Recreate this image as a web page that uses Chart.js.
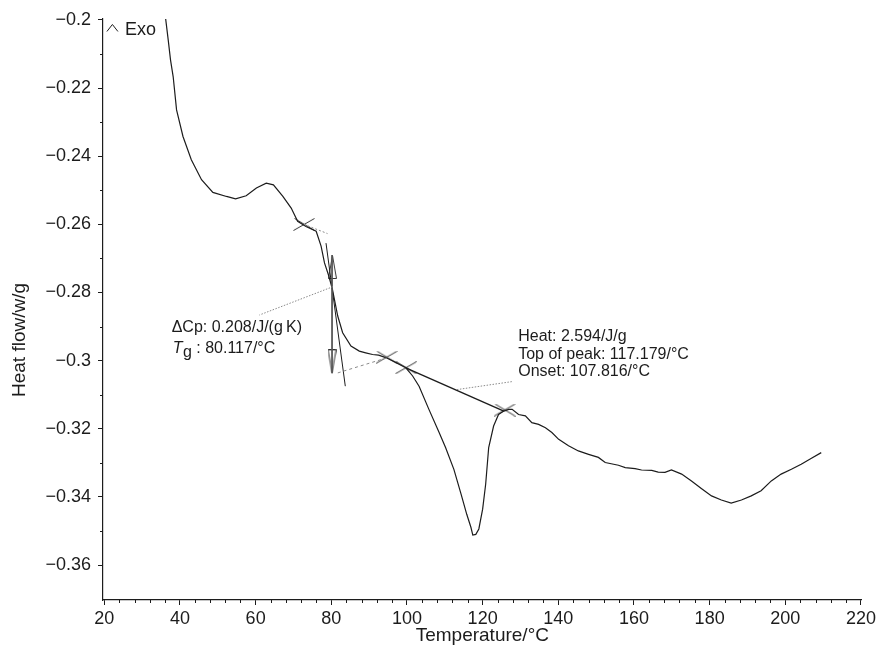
<!DOCTYPE html>
<html>
<head>
<meta charset="utf-8">
<title>DSC heat flow</title>
<script src="https://cdn.jsdelivr.net/npm/chart.js@4.4.1/dist/chart.umd.min.js"></script>
<style>
  html, body { margin: 0; padding: 0; background: #fff; }
  canvas { display: block; }
</style>
</head>
<body>
<canvas id="chart" width="879" height="657"></canvas>
<script>
'use strict';

const INK = '#1c1c1c';
const GREY = '#8a8a8a';
const FONT = '"Liberation Sans", Arial, Helvetica, sans-serif';

// main DSC trace
const tempC = [
  36.2, 36.9, 37.5, 38.2, 39.1, 40.8, 43.0, 45.7, 48.7, 52.3, 54.7, 57.5, 60.2, 62.8, 64.7,
  67.2, 69.4, 71.1, 73.3, 76.0, 77.3, 78.2, 79.3, 80.3, 81.7, 83.0, 85.2, 87.4, 89.1, 90.9,
  92.5, 94.4, 97.0, 99.7, 101.5, 103.2, 105.8, 108.5, 110.2, 112.4, 114.3, 115.8, 116.9, 117.4,
  118.2, 119.0, 120.0, 120.8, 121.6, 122.9, 124.2, 125.6, 126.9, 127.8, 129.5, 131.3, 133.0,
  134.8, 136.6, 138.3, 140.1, 142.7, 145.3, 148.0, 150.6, 152.4, 155.9, 157.7, 160.3, 162.0,
  164.7, 166.4, 168.2, 169.9, 172.6, 175.2, 177.8, 180.5, 183.1, 185.7, 188.4, 191.0, 193.6,
  196.3, 198.9, 201.6, 204.2, 206.8, 209.5
];
const heatFlow = [
  -0.1995, -0.2059, -0.2117, -0.2166, -0.2264, -0.2342, -0.2410, -0.2469, -0.2506, -0.2518, -0.2525, -0.2516, -0.2493, -0.2479, -0.2484,
  -0.2518, -0.2552, -0.2591, -0.2606, -0.2620, -0.2664, -0.2713, -0.2750, -0.2791, -0.2869, -0.2918, -0.2957, -0.2972, -0.2977, -0.2982,
  -0.2984, -0.2991, -0.3005, -0.3021, -0.3045, -0.3075, -0.3143, -0.3211, -0.3255, -0.3319, -0.3392, -0.3451, -0.3489, -0.3512,
  -0.3510, -0.3494, -0.3436, -0.3363, -0.3255, -0.3192, -0.3158, -0.3148, -0.3143, -0.3143, -0.3158, -0.3162, -0.3182,
  -0.3187, -0.3197, -0.3211, -0.3231, -0.3250, -0.3265, -0.3275, -0.3284, -0.3299, -0.3307, -0.3314, -0.3317, -0.3321,
  -0.3322, -0.3327, -0.3328, -0.3321, -0.3333, -0.3353, -0.3375, -0.3397, -0.3409, -0.3418, -0.3409, -0.3397, -0.3382,
  -0.3353, -0.3333, -0.3319, -0.3304, -0.3287, -0.3270
];

// glass transition evaluation
const tgTangentX = [78.6, 83.7];
const tgTangentY = [-0.2655, -0.3075];
const upperBaseX = [72.8, 79.0];
const upperBaseY = [-0.2600, -0.2627];
const lowerBaseX = [94.6, 81.7];
const lowerBaseY = [-0.2992, -0.3036];
const deltaCpX = [80.2, 80.2];
const deltaCpY = [-0.2690, -0.3037];
const arrowUp = { x: 80.3, y: -0.2725 };
const arrowDown = { x: 80.2, y: -0.3002 };
const tgLeaderX = [80.4, 61.0];
const tgLeaderY = [-0.2783, -0.2866];

// melting peak evaluation
const peakBaseX = [99.7, 125.6];
const peakBaseY = [-0.3021, -0.3148];
const peakLeaderX = [113.2, 128.1];
const peakLeaderY = [-0.3085, -0.3061];

const markerX = [72.8, 94.6, 99.7, 125.8];
const markerY = [-0.2600, -0.2990, -0.3021, -0.3145];

// axes
const xTicks = [20, 40, 60, 80, 100, 120, 140, 160, 180, 200, 220];
const xMinorTicks = [];
for (let v = 24; v < 220; v += 4) { if (v % 20 !== 0) { xMinorTicks.push(v); } }
const yTicks = [-0.2, -0.22, -0.24, -0.26, -0.28, -0.3, -0.32, -0.34, -0.36];
const yTickLabels = ['\u22120.2', '\u22120.22', '\u22120.24', '\u22120.26', '\u22120.28', '\u22120.3', '\u22120.32', '\u22120.34', '\u22120.36'];
const yMinorTicks = [-0.21, -0.23, -0.25, -0.27, -0.29, -0.31, -0.33, -0.35];

// annotation texts, anchored in data units
const tgNote = { x: 37.8, y: -0.2917, y2: -0.2977, line1: '\u0394Cp: 0.208/J/(g\u2009K)', tg: ' : 80.117/\u00b0C' };
const peakNote = { x: 129.4, ys: [-0.2943, -0.2994, -0.3045], lines: ['Heat: 2.594/J/g', 'Top of peak: 117.179/\u00b0C', 'Onset: 107.816/\u00b0C'] };
const exoNote = { x: 25.45, y: -0.2044, text: 'Exo' };

function pts(xs, ys) { return xs.map((x, i) => ({ x, y: ys[i] })); }

function makeArrow(up) {
  const c = document.createElement('canvas');
  c.width = 9; c.height = 24;
  const g = c.getContext('2d');
  g.strokeStyle = '#333';
  g.lineWidth = 1;
  g.beginPath();
  if (up) { g.moveTo(4.5, 0.5); g.lineTo(8.5, 23.5); g.lineTo(0.5, 23.5); }
  else { g.moveTo(4.5, 23.5); g.lineTo(8.5, 0.5); g.lineTo(0.5, 0.5); }
  g.closePath();
  g.stroke();
  return c;
}

function makeCross() {
  const c = document.createElement('canvas');
  c.width = 22; c.height = 13;
  const g = c.getContext('2d');
  g.strokeStyle = '#333';
  g.lineWidth = 1;
  g.beginPath();
  g.moveTo(0.5, 12.5); g.lineTo(21.5, 0.5);
  g.moveTo(1.5, 0.5); g.lineTo(21.5, 12.5);
  g.stroke();
  return c;
}

function seg(data, color, width, dash) {
  return {
    data, showLine: true, borderColor: color, borderWidth: width, borderDash: dash || [],
    pointRadius: 0, fill: false, tension: 0
  };
}

const notesPlugin = {
  id: 'dscNotes',
  afterDraw(chart) {
    const { ctx } = chart;
    const x = chart.scales.x;
    const y = chart.scales.y;
    ctx.save();
    ctx.strokeStyle = INK;
    ctx.lineWidth = 1;
    xMinorTicks.forEach(v => {
      const px = Math.round(x.getPixelForValue(v)) + 0.5;
      ctx.beginPath(); ctx.moveTo(px, y.bottom); ctx.lineTo(px, y.bottom + 3); ctx.stroke();
    });
    yMinorTicks.forEach(v => {
      const py = Math.round(y.getPixelForValue(v)) + 0.5;
      ctx.beginPath(); ctx.moveTo(x.left, py); ctx.lineTo(x.left - 3, py); ctx.stroke();
    });

    ctx.fillStyle = INK;
    ctx.textBaseline = 'alphabetic';
    ctx.textAlign = 'left';

    // Exo marker
    ctx.font = '18px ' + FONT;
    const ex = x.getPixelForValue(exoNote.x);
    const ey = y.getPixelForValue(exoNote.y);
    ctx.fillText(exoNote.text, ex, ey);
    ctx.beginPath();
    ctx.moveTo(ex - 18, ey - 3.5); ctx.lineTo(ex - 12.5, ey - 10.5); ctx.lineTo(ex - 7, ey - 3.5);
    ctx.stroke();

    // glass transition note
    ctx.font = '16px ' + FONT;
    const tx = x.getPixelForValue(tgNote.x);
    ctx.fillText(tgNote.line1, tx, y.getPixelForValue(tgNote.y));
    const ty = y.getPixelForValue(tgNote.y2);
    ctx.font = 'italic 16px ' + FONT;
    ctx.fillText('T', tx + 1, ty);
    let cx = tx + 1 + ctx.measureText('T').width;
    ctx.font = '16px ' + FONT;
    ctx.fillText('g', cx + 0.5, ty + 4);
    cx += 0.5 + ctx.measureText('g').width;
    ctx.fillText(tgNote.tg, cx, ty);

    // peak note
    const hx = x.getPixelForValue(peakNote.x);
    peakNote.lines.forEach((t, i) => ctx.fillText(t, hx, y.getPixelForValue(peakNote.ys[i])));

    // y axis title
    ctx.font = '19px ' + FONT;
    ctx.textAlign = 'center';
    ctx.textBaseline = 'middle';
    ctx.translate(20, 340);
    ctx.rotate(-Math.PI / 2);
    ctx.fillText('Heat flow/w/g', 0, 0);
    ctx.restore();
  }
};

const crossImg = makeCross();

new Chart(document.getElementById('chart').getContext('2d'), {
  type: 'scatter',
  data: {
    datasets: [
      seg(pts(upperBaseX, upperBaseY), GREY, 1, [2, 2]),
      seg(pts(lowerBaseX, lowerBaseY), GREY, 1, [3, 3]),
      seg(pts(tgLeaderX, tgLeaderY), GREY, 1, [1.5, 1.5]),
      seg(pts(peakLeaderX, peakLeaderY), GREY, 1, [1.5, 1.5]),
      seg(pts(deltaCpX, deltaCpY), '#555', 1),
      seg(pts(tgTangentX, tgTangentY), INK, 1),
      seg(pts(peakBaseX, peakBaseY), INK, 1.4),
      seg(pts(tempC, heatFlow), INK, 1.2),
      {
        data: [arrowUp], pointStyle: makeArrow(true), pointRadius: 5, showLine: false
      },
      {
        data: [arrowDown], pointStyle: makeArrow(false), pointRadius: 5, showLine: false
      },
      {
        data: pts(markerX, markerY), pointStyle: crossImg, pointRadius: 5, showLine: false
      }
    ]
  },
  options: {
    responsive: false,
    animation: false,
    events: [],
    layout: { padding: { top: 19, right: 15, left: 0, bottom: 0 } },
    plugins: { legend: { display: false }, tooltip: { enabled: false } },
    scales: {
      x: {
        type: 'linear',
        min: 19.657,
        max: 220.18,
        afterBuildTicks: s => { s.ticks = xTicks.map(v => ({ value: v })); },
        afterFit: s => { s.height = 57; },
        ticks: {
          callback: v => String(v), color: INK, font: { family: FONT, size: 18 },
          padding: 3, maxRotation: 0, autoSkip: false
        },
        grid: { drawOnChartArea: false, drawTicks: true, tickLength: 5, tickColor: INK, tickWidth: 1 },
        border: { display: true, color: INK, width: 1.2 },
        title: {
          display: true, text: 'Temperature/\u00b0C', color: INK,
          font: { family: FONT, size: 19 }, padding: { top: 0, bottom: 10 }
        }
      },
      y: {
        type: 'linear',
        min: -0.37026,
        max: -0.19971,
        afterBuildTicks: s => { s.ticks = yTicks.map(v => ({ value: v })); },
        afterFit: s => { s.width = 103; },
        ticks: {
          callback: (v, i) => yTickLabels[i], color: INK, font: { family: FONT, size: 18 },
          padding: 7, autoSkip: false
        },
        grid: { drawOnChartArea: false, drawTicks: true, tickLength: 5, tickColor: INK, tickWidth: 1 },
        border: { display: true, color: INK, width: 1.2 }
      }
    }
  },
  plugins: [notesPlugin]
});
</script>
</body>
</html>
